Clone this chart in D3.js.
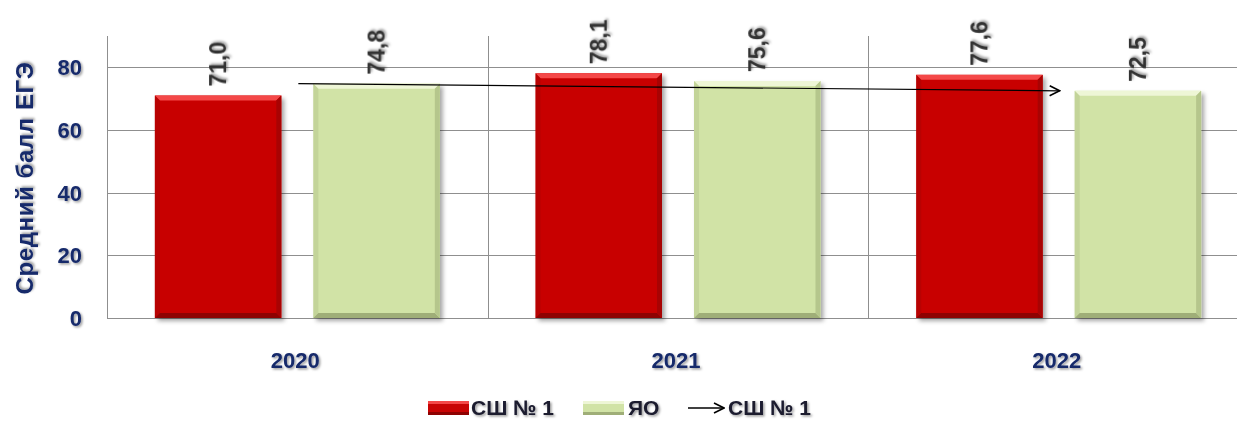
<!DOCTYPE html>
<html>
<head>
<meta charset="utf-8">
<script src="https://cdn.jsdelivr.net/npm/d3@7"></script>
<style>
  body { margin: 0; background: #fff; }
  svg { display: block; font-family: "Liberation Sans", Arial, sans-serif; }
</style>
</head>
<body>
<div id="chart"></div>
<script>
const years = ["2020", "2021", "2022"];
const seriesNames = ["СШ № 1", "ЯО"];
const schoolValues = [71.0, 78.1, 77.6];
const regionValues = [74.8, 75.6, 72.5];
const yTicks = [0, 20, 40, 60, 80];
// arrow drawn over the chart, from the ЯО value of the first year to the last
const arrowYears = ["2020", "2022"];
const arrowValues = [74.8, 72.5];

const width = 1237, height = 421;
const plotLeft = 107, plotRight = 1249, plotTop = 36, plotBottom = 318;

const svg = d3.select("#chart").append("svg")
    .attr("width", width)
    .attr("height", height);

const defs = svg.append("defs");
const shadow = defs.append("filter").attr("id", "barShadow")
    .attr("x", "-10%").attr("y", "-10%").attr("width", "130%").attr("height", "130%");
shadow.append("feDropShadow").attr("dx", 3).attr("dy", 3).attr("stdDeviation", 2)
    .attr("flood-color", "#000").attr("flood-opacity", 0.35);
const textShadow = defs.append("filter").attr("id", "textShadow")
    .attr("x", "-20%").attr("y", "-20%").attr("width", "150%").attr("height", "150%");
textShadow.append("feDropShadow").attr("dx", 1.5).attr("dy", 1.5).attr("stdDeviation", 1.2)
    .attr("flood-color", "#000").attr("flood-opacity", 0.4);

const x = d3.scaleBand().domain(years).range([plotLeft, plotRight]);
const xSub = d3.scaleBand().domain(seriesNames).range([0, x.bandwidth()])
    .paddingInner(0.202).paddingOuter(0.302);
const y = d3.scaleLinear().domain([0, 90]).range([plotBottom, plotTop]);

const colors = {
    "СШ № 1": { base: "#c80404", light: "#f44848", dark: "#8e0202", side: "#a80303" },
    "ЯО": { base: "#d1e3a6", light: "#eef6d6", dark: "#9fae78", side: "#b5c68c" }
};

// grid
svg.append("g").selectAll("line").data(yTicks).join("line")
    .attr("x1", plotLeft).attr("x2", width)
    .attr("y1", d => Math.round(y(d)) + 0.5).attr("y2", d => Math.round(y(d)) + 0.5)
    .attr("stroke", "#8f8f8f").attr("stroke-width", 1);

svg.append("g").selectAll("line").data(years).join("line")
    .attr("x1", d => Math.round(x(d)) + 0.5).attr("x2", d => Math.round(x(d)) + 0.5)
    .attr("y1", plotTop).attr("y2", plotBottom)
    .attr("stroke", "#8f8f8f").attr("stroke-width", 1);

// y tick labels
svg.append("g").selectAll("text").data(yTicks).join("text")
    .attr("x", 82).attr("y", d => y(d) + 8)
    .attr("text-anchor", "end")
    .attr("font-size", 22).attr("font-weight", "bold")
    .attr("fill", "#15296b")
    .attr("filter", "url(#textShadow)")
    .text(d => d);

// y title
svg.append("text")
    .attr("transform", "translate(33,178) rotate(-90)")
    .attr("text-anchor", "middle")
    .attr("font-size", 24).attr("font-weight", "bold")
    .attr("letter-spacing", 0.6)
    .attr("fill", "#15296b")
    .attr("filter", "url(#textShadow)")
    .text("Средний балл ЕГЭ");

// x labels
svg.append("g").selectAll("text").data(years).join("text")
    .attr("x", d => x(d) + x.bandwidth() / 2 - 2).attr("y", 368)
    .attr("text-anchor", "middle")
    .attr("font-size", 22).attr("font-weight", "bold")
    .attr("fill", "#15296b")
    .attr("filter", "url(#textShadow)")
    .text(d => d);

// bars
const bars = [];
years.forEach((yr, i) => {
    bars.push({ year: yr, series: seriesNames[0], value: schoolValues[i] });
    bars.push({ year: yr, series: seriesNames[1], value: regionValues[i] });
});

const bevel = 5;
const barG = svg.append("g").selectAll("g").data(bars).join("g")
    .attr("transform", d => `translate(${x(d.year) + xSub(d.series)},${y(d.value)})`);

barG.append("rect")
    .attr("width", xSub.bandwidth())
    .attr("height", d => plotBottom - y(d.value))
    .attr("fill", d => colors[d.series].base)
    .attr("filter", "url(#barShadow)");

function poly(pts) { return pts.map(p => p.join(",")).join(" "); }
const w = xSub.bandwidth();
// top bevel
barG.append("polygon")
    .attr("points", poly([[0, 0], [w, 0], [w - bevel, bevel], [bevel, bevel]]))
    .attr("fill", d => colors[d.series].light);
// bottom bevel
barG.append("polygon")
    .attr("points", d => { const h = plotBottom - y(d.value); return poly([[0, h], [w, h], [w - bevel, h - bevel], [bevel, h - bevel]]); })
    .attr("fill", d => colors[d.series].dark);
// right bevel
barG.append("polygon")
    .attr("points", d => { const h = plotBottom - y(d.value); return poly([[w, 0], [w, h], [w - bevel, h - bevel], [w - bevel, bevel]]); })
    .attr("fill", d => colors[d.series].side);
// left bevel
barG.append("polygon")
    .attr("points", d => { const h = plotBottom - y(d.value); return poly([[0, 0], [0, h], [bevel, h - bevel], [bevel, bevel]]); })
    .attr("fill", d => colors[d.series].side).attr("opacity", 0.5);

// value labels
barG.append("text")
    .attr("transform", `translate(${w / 2 + 8},-9) rotate(-90)`)
    .attr("font-size", 23).attr("font-weight", "bold")
    .attr("fill", "#333")
    .attr("filter", "url(#textShadow)")
    .text(d => d.value.toFixed(1).replace(".", ","));

// arrow
defs.append("marker").attr("id", "arrowHead")
    .attr("viewBox", "0 0 12 12").attr("refX", 11).attr("refY", 6)
    .attr("markerWidth", 12).attr("markerHeight", 12).attr("markerUnits", "userSpaceOnUse")
    .attr("orient", "auto")
    .append("path").attr("d", "M1,1 L11,6 L1,11").attr("fill", "none")
    .attr("stroke", "#000").attr("stroke-width", 1.6);

const ax = arrowYears.map(yr => x(yr) + xSub("ЯО") - 15);
const ay = arrowValues.map(v => y(v));
svg.append("line")
    .attr("x1", ax[0]).attr("y1", ay[0]).attr("x2", ax[1]).attr("y2", ay[1])
    .attr("stroke", "#000").attr("stroke-width", 1.2)
    .attr("marker-end", "url(#arrowHead)");

// legend
const lg = svg.append("g");
const legendY = 415;
[["СШ № 1", 428, 471], ["ЯО", 583, 628]].forEach(([name, sx, tx]) => {
    const c = colors[name];
    lg.append("rect").attr("x", sx).attr("y", legendY - 14).attr("width", 41).attr("height", 14)
        .attr("fill", c.base);
    lg.append("rect").attr("x", sx).attr("y", legendY - 14).attr("width", 41).attr("height", 3)
        .attr("fill", c.light);
    lg.append("rect").attr("x", sx).attr("y", legendY - 3).attr("width", 41).attr("height", 3)
        .attr("fill", c.dark);
    lg.append("text").attr("x", tx).attr("y", legendY)
        .attr("font-size", 21).attr("font-weight", "bold").attr("fill", "#1a1a2e")
        .attr("filter", "url(#textShadow)")
        .text(name);
});
lg.append("line").attr("x1", 688).attr("x2", 724).attr("y1", legendY - 7).attr("y2", legendY - 7)
    .attr("stroke", "#000").attr("stroke-width", 1.4).attr("marker-end", "url(#arrowHead)");
lg.append("text").attr("x", 728).attr("y", legendY)
    .attr("font-size", 21).attr("font-weight", "bold").attr("fill", "#1a1a2e")
    .attr("filter", "url(#textShadow)")
    .text("СШ № 1");
</script>
</body>
</html>
